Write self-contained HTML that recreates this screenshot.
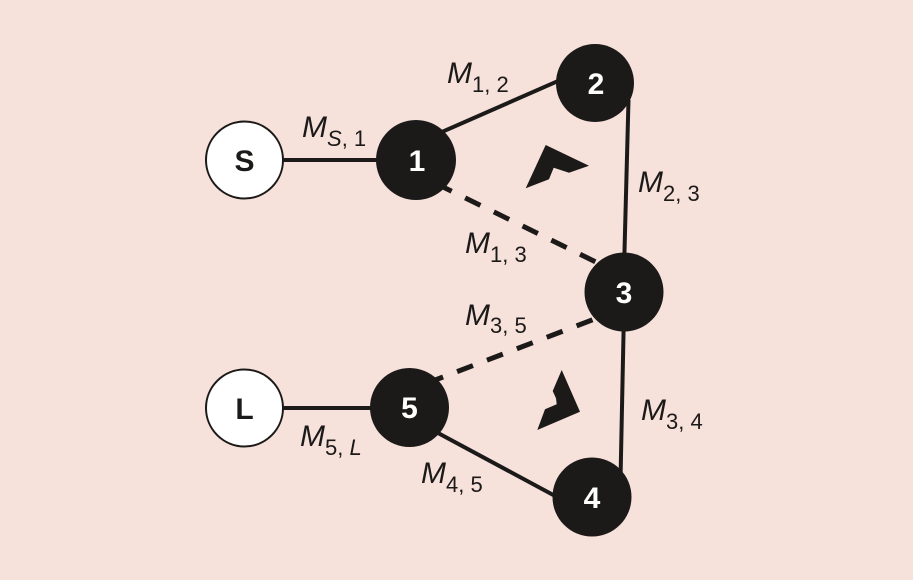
<!DOCTYPE html>
<html><head><meta charset="utf-8"><style>
html,body{margin:0;padding:0;background:#f6e1db;}
svg{display:block;}
text{font-family:"Liberation Sans",Arial,sans-serif;}
</style></head><body>
<svg width="913" height="580" viewBox="0 0 913 580" xmlns="http://www.w3.org/2000/svg">
<rect width="913" height="580" fill="#f6e1db"/>
<g stroke="#1c1a19" stroke-width="4" fill="none" stroke-linecap="butt">
  <line x1="280" y1="160" x2="400" y2="160"/>
  <line x1="280" y1="408" x2="395" y2="408"/>
  <line x1="430" y1="137.2" x2="575" y2="73.6"/>
  <line x1="628.5" y1="100" x2="624" y2="270"/>
  <line x1="624" y1="310" x2="620.5" y2="480"/>
  <line x1="425" y1="426" x2="570" y2="504"/>
</g>
<g stroke="#1c1a19" stroke-width="5" fill="none" stroke-dasharray="17 15">
  <line x1="440" y1="185.5" x2="600" y2="264" stroke-dashoffset="4"/>
  <line x1="430" y1="382" x2="605" y2="315" stroke-dashoffset="3"/>
</g>
<!-- arrows -->
<polygon fill="#1c1a19" points="545.7,145 589,165.7 569,172.7 553.7,167.7 549,179.3 525.7,188.3"/>
<polygon fill="#1c1a19" points="561.7,370 580,411.7 537.3,430 545,409.3 556.7,404.3 556,398.3 552.7,391"/>
<!-- nodes -->
<circle cx="244.5" cy="160" r="38.5" fill="#ffffff" stroke="#1c1a19" stroke-width="2"/>
<circle cx="244.5" cy="408" r="38.5" fill="#ffffff" stroke="#1c1a19" stroke-width="2"/>
<circle cx="416" cy="160" r="40" fill="#1c1a19"/>
<circle cx="595" cy="83" r="39" fill="#1c1a19"/>
<circle cx="624" cy="292" r="39.5" fill="#1c1a19"/>
<circle cx="592" cy="497" r="39.5" fill="#1c1a19"/>
<circle cx="409.5" cy="407.5" r="39.5" fill="#1c1a19"/>
<g font-size="30" font-weight="bold" text-anchor="middle">
  <text x="244.5" y="171" fill="#1c1a19">S</text>
  <text x="244.5" y="419" fill="#1c1a19">L</text>
  <text x="417" y="171" fill="#ffffff">1</text>
  <text x="596" y="94" fill="#ffffff">2</text>
  <text x="624" y="303" fill="#ffffff">3</text>
  <text x="592" y="508" fill="#ffffff">4</text>
  <text x="409.5" y="418" fill="#ffffff">5</text>
</g>
<g fill="#1c1a19" font-size="30">
  <text x="302" y="137"><tspan font-style="italic">M</tspan><tspan font-size="22" dy="9"><tspan font-style="italic">S</tspan>, 1</tspan></text>
  <text x="447" y="83"><tspan font-style="italic">M</tspan><tspan font-size="22" dy="9">1, 2</tspan></text>
  <text x="638" y="192"><tspan font-style="italic">M</tspan><tspan font-size="22" dy="9">2, 3</tspan></text>
  <text x="465" y="253"><tspan font-style="italic">M</tspan><tspan font-size="22" dy="9">1, 3</tspan></text>
  <text x="465" y="325"><tspan font-style="italic">M</tspan><tspan font-size="22" dy="8">3, 5</tspan></text>
  <text x="641" y="420"><tspan font-style="italic">M</tspan><tspan font-size="22" dy="9">3, 4</tspan></text>
  <text x="421" y="483"><tspan font-style="italic">M</tspan><tspan font-size="22" dy="9">4, 5</tspan></text>
  <text x="300" y="446"><tspan font-style="italic">M</tspan><tspan font-size="22" dy="9">5, <tspan font-style="italic">L</tspan></tspan></text>
</g>
</svg>
</body></html>
